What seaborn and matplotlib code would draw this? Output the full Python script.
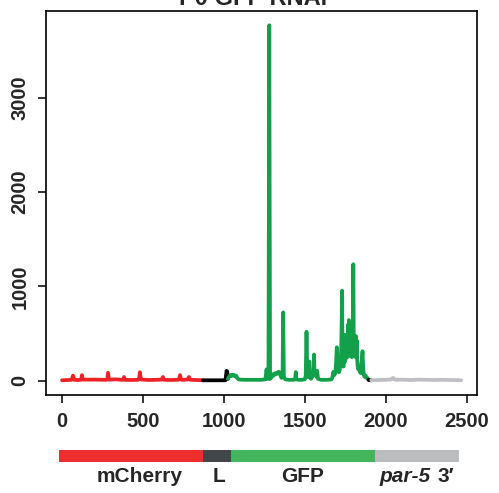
import matplotlib
matplotlib.use("Agg")
import matplotlib.pyplot as plt
import seaborn as sns
import pandas as pd

# ---- data (position in bp, coverage) ----
red_x = [0, 40, 60, 68, 76, 100, 112, 118, 123, 128, 200, 270, 280, 284, 290,
         330, 370, 378, 383, 388, 430, 470, 476, 481, 486, 500, 540, 580, 615,
         623, 631, 680, 722, 729, 734, 739, 775, 784, 790, 796, 830, 870]
red_y = [5, 8, 10, 55, 10, 8, 10, 12, 60, 12, 12, 10, 12, 85, 12,
         15, 10, 12, 40, 10, 8, 10, 20, 90, 15, 12, 8, 10, 12,
         40, 10, 8, 12, 60, 15, 10, 12, 40, 12, 10, 8, 5]

link_x = [870, 900, 950, 1000, 1010, 1016, 1020, 1024]
link_y = [5, 5, 5, 5, 6, 105, 100, 20]

green_x = [1024, 1030, 1040, 1046, 1052, 1058, 1064, 1070, 1076, 1082, 1090, 1100,
           1130, 1180, 1230, 1256, 1263, 1270, 1275, 1280, 1285, 1292, 1300, 1308,
           1316, 1324, 1332, 1340, 1348, 1356, 1362, 1366, 1370, 1378, 1400, 1430,
           1440, 1444, 1448, 1456, 1480, 1500, 1505, 1510, 1515, 1520, 1524, 1527,
           1531, 1538, 1545, 1552, 1556, 1560, 1566, 1572, 1576, 1581, 1600, 1640,
           1665, 1670, 1676, 1682, 1688, 1693, 1697, 1702, 1706, 1710, 1716, 1720,
           1724, 1727, 1730, 1732, 1734, 1736, 1738, 1740, 1742, 1744, 1746, 1748,
           1750, 1752, 1754, 1756, 1758, 1760, 1762, 1764, 1766, 1768, 1770, 1772,
           1774, 1776, 1778, 1780, 1782, 1784, 1786, 1788, 1790, 1792, 1794, 1796,
           1799, 1802, 1804, 1806, 1808, 1810, 1812, 1814, 1816, 1818, 1820, 1823,
           1826, 1830, 1835, 1840, 1845, 1850, 1856, 1860, 1864, 1870, 1876, 1881,
           1886, 1893]
green_y = [20, 40, 60, 50, 65, 55, 60, 45, 55, 30, 15, 12,
           10, 10, 10, 15, 120, 20, 20, 3770, 20, 30, 70, 55,
           80, 70, 90, 95, 60, 30, 60, 725, 40, 15, 10, 10,
           15, 92, 15, 10, 10, 15, 50, 520, 60, 40, 50, 204,
           40, 20, 40, 60, 278, 70, 60, 40, 105, 20, 10, 10,
           15, 40, 95, 60, 80, 200, 355, 120, 160, 90, 120, 200,
           320, 600, 955, 300, 200, 420, 150, 485, 250, 470, 200, 480,
           220, 470, 260, 480, 300, 460, 250, 500, 300, 600, 320, 644,
           350, 560, 300, 480, 260, 460, 300, 480, 250, 470, 350, 600,
           1235, 350, 480, 260, 460, 300, 470, 250, 472, 260, 430, 220,
           150, 120, 145, 90, 80, 200, 313, 150, 60, 40, 55, 30,
           30, 10]

link2_x = [1893, 1902, 1910]
link2_y = [10, 6, 5]

utr_x = [1910, 1950, 2000, 2030, 2040, 2045, 2050, 2060, 2100, 2150, 2200,
         2250, 2300, 2350, 2400, 2465]
utr_y = [5, 8, 10, 12, 25, 30, 20, 10, 12, 8, 12, 10, 8, 10, 8, 5]

# gene model annotation bar
feature_names = ["mCherry", "L", "GFP", "par-5 3′"]
feature_bounds = [-18, 870, 1043, 1932, 2451]

y_ticks = [0, 1000, 2000, 3000]
x_ticks = [0, 500, 1000, 1500, 2000, 2500]
title = "P0 GFP RNAi"

# ---- styling ----
sns.set_style("ticks")
plt.rcParams["font.family"] = ["Liberation Sans", "DejaVu Sans"]
plt.rcParams["font.weight"] = "bold"

fig = plt.figure(figsize=(4.99, 4.93), dpi=100)
W, H = 499.0, 493.0
ax = fig.add_axes([46 / W, 1 - 395 / H, 431 / W, 384 / H])

segments = [
    (red_x, red_y, "#EC2227"),
    (link_x, link_y, "#000000"),
    (green_x, green_y, "#12A04B"),
    (link2_x, link2_y, "#000000"),
    (utr_x, utr_y, "#BFBFC3"),
]
for xs, ys, col in segments:
    df = pd.DataFrame({"pos": xs, "cov": ys})
    sns.lineplot(data=df, x="pos", y="cov", ax=ax, color=col, lw=2.7,
                 sort=False, estimator=None,
                 solid_capstyle="round", solid_joinstyle="round")

ax.set_xlim(-99, 2563)
ax.set_ylim(-151, 3921)
ax.set_xticks(x_ticks)
ax.set_yticks(y_ticks)
ax.set_xlabel("")
ax.set_ylabel("")
for s in ax.spines.values():
    s.set_visible(True)
    s.set_linewidth(1.2)
    s.set_color("black")
ax.tick_params(axis="both", length=6, width=1.1, color="black",
               labelsize=14.5, direction="out")
ax.tick_params(axis="x", pad=6)
ax.tick_params(axis="y", pad=6)
for lab in ax.get_yticklabels():
    lab.set_rotation(90)
    lab.set_va("center")
    lab.set_fontweight("bold")
for lab in ax.get_xticklabels():
    lab.set_fontweight("bold")

fig.text(253 / W, 1 - 5 / H, title, ha="center", va="baseline",
         fontsize=17, fontweight="bold")

# ---- annotation bar ----
bax = fig.add_axes([46 / W, 1 - 462 / H, 431 / W, 12 / H])
bax.set_xlim(-99, 2563)
bax.set_ylim(0, 1)
bar_colors = ["#EE2D2D", "#434648", "#43B55C", "#BBBCBE"]
for i, c in enumerate(bar_colors):
    bax.barh(0.5, feature_bounds[i + 1] - feature_bounds[i], left=feature_bounds[i],
             height=1.0, color=c, edgecolor="none")
bax.axis("off")

lab_y = -1.2
fs = 15
bax.text(481, lab_y, feature_names[0], ha="center", va="center",
         fontsize=fs, fontweight="bold", clip_on=False)
bax.text(969, lab_y, feature_names[1], ha="center", va="center",
         fontsize=fs, fontweight="bold", clip_on=False)
bax.text(1488, lab_y, feature_names[2], ha="center", va="center",
         fontsize=fs, fontweight="bold", clip_on=False)
bax.text(1963, lab_y, "par-5", ha="left", va="center", fontsize=fs,
         fontweight="bold", fontstyle="italic", clip_on=False)
bax.text(2318, lab_y, "3′", ha="left", va="center", fontsize=fs,
         fontweight="bold", clip_on=False)

fig.savefig("out.png", dpi=100)
